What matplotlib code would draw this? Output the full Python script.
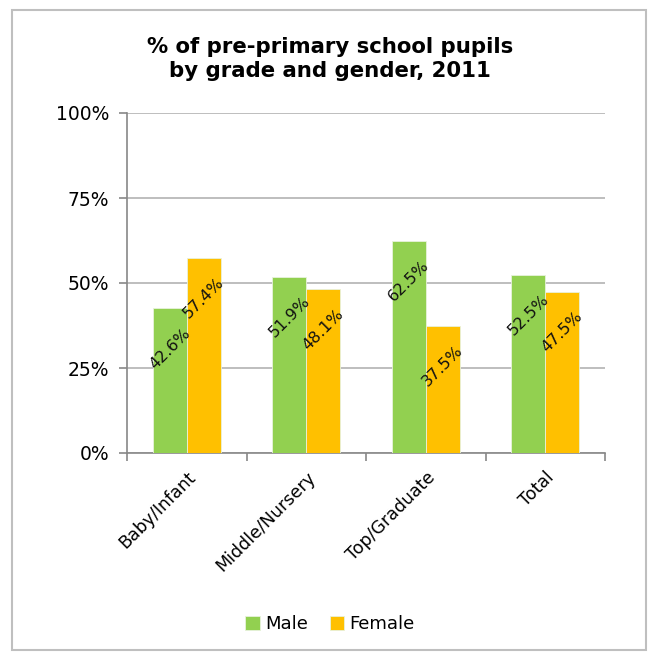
import matplotlib
matplotlib.use("Agg")
import matplotlib.pyplot as plt
import numpy as np
from matplotlib.patches import Rectangle
from matplotlib.ticker import FuncFormatter

categories = ["Baby/Infant", "Middle/Nursery", "Top/Graduate", "Total"]
male = [42.6, 51.9, 62.5, 52.5]
female = [57.4, 48.1, 37.5, 47.5]
series = [("Male", male, "#92D050"), ("Female", female, "#FFC000")]

W, H = 660, 656
fig = plt.figure(figsize=(W / 100, H / 100), dpi=100)
fig.patches.append(Rectangle((12 / W, 1 - 650 / H), 634 / W, 640 / H,
                             transform=fig.transFigure, fill=False,
                             edgecolor="#BFBFBF", linewidth=1.5))

ax = fig.add_axes([127 / W, 1 - 453 / H, 478 / W, 340 / H])
x = np.arange(len(categories))
bw = 0.285
for i, (name, vals, col) in enumerate(series):
    pos = x + (i - 0.5) * bw
    ax.bar(pos, vals, bw, color=col, edgecolor="#E8F2DC", linewidth=0.6, label=name, zorder=3)
    for p, v in zip(pos, vals):
        ax.annotate(f"{v:.1f}%", (p, v), xytext=(0, -29), textcoords="offset points",
                    ha="center", va="center", rotation=45, fontsize=11.5,
                    color="#111111", zorder=4)

ax.set_xlim(-0.5, len(categories) - 0.5)
ax.set_ylim(0, 100)
ax.set_yticks([0, 25, 50, 75, 100])
ax.yaxis.set_major_formatter(FuncFormatter(lambda v, _: f"{v:.0f}%"))
ax.grid(axis="y", color="#B3B3B3", linewidth=1.2, zorder=0)
for s in ["top", "right"]:
    ax.spines[s].set_visible(False)
for s in ["left", "bottom"]:
    ax.spines[s].set_color("#888888")
    ax.spines[s].set_linewidth(1.2)

ax.set_xticks(x)
ax.set_xticklabels(categories, rotation=45, ha="right", rotation_mode="anchor",
                   fontsize=12.5)
ax.tick_params(axis="x", length=0, pad=11)
ax.set_xticks(np.arange(len(categories) + 1) - 0.5, minor=True)
ax.tick_params(axis="x", which="minor", length=6, color="#888888", width=1.2)
ax.tick_params(axis="y", length=6, color="#888888", width=1.2, labelsize=13.5, pad=7)

fig.text(0.5, 1 - 59 / H, "% of pre-primary school pupils\nby grade and gender, 2011",
         ha="center", va="center", fontsize=15.3, fontweight="bold", linespacing=1.25)

fig.legend(loc="center", bbox_to_anchor=(0.5, 1 - 624 / H), ncol=2, frameon=False,
           fontsize=13, handlelength=0.8, handleheight=0.8, handletextpad=0.3,
           columnspacing=1.2)

fig.savefig("out.png", dpi=100)
